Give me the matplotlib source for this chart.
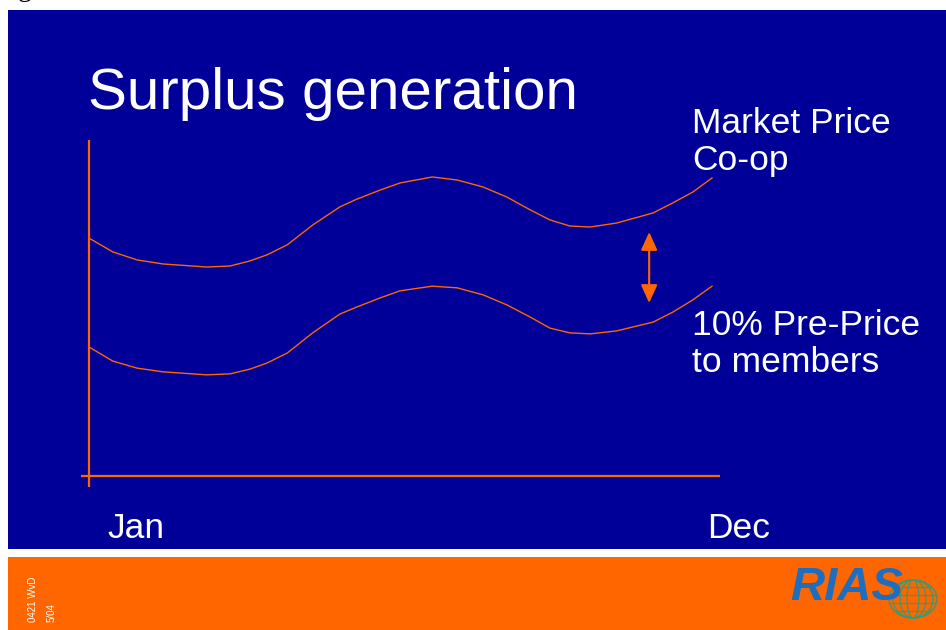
import matplotlib
matplotlib.use("Agg")
import matplotlib.pyplot as plt
from matplotlib.patches import Rectangle, Ellipse, Arc

# Datos (mes 0 = Jan, 11 = Dec; precio en indice 0-100)
months = [0.00, 0.42, 0.85, 1.31, 2.08, 2.49, 2.84, 3.14, 3.50, 3.95,
          4.43, 4.73, 5.14, 5.49, 6.06, 6.50, 6.96, 7.38, 7.79, 8.14,
          8.49, 8.85, 9.32, 9.96, 10.31, 10.66, 11.00]
market_price = [70.8, 66.7, 64.3, 63.1, 62.2, 62.5, 64.0, 65.8, 68.8, 74.7,
                80.1, 82.4, 85.1, 87.2, 89.0, 88.1, 86.0, 83.0, 79.2, 76.2,
                74.4, 74.1, 75.3, 78.3, 81.3, 84.5, 88.7]
pre_price = [38.4, 34.2, 32.1, 31.0, 30.1, 30.4, 31.8, 33.6, 36.6, 42.6,
             48.2, 50.3, 53.0, 55.1, 56.5, 56.0, 53.9, 50.9, 47.3, 44.0,
             42.6, 42.3, 43.2, 45.8, 48.8, 52.4, 56.5]
gap_month = 9.89
gap_top = 72.6
gap_bottom = 51.5

title = "Surplus generation"
upper_label = ["Market Price", "Co-op"]
lower_label = ["10% Pre-Price", "to members"]
start_label = "Jan"
end_label = "Dec"

BLUE = "#000099"
ORANGE = "#FF6600"
FONT = "Liberation Sans"

fig = plt.figure(figsize=(9.46, 6.3), dpi=100)
fig.patch.set_facecolor("white")

# Fondo de la diapositiva en coordenadas de pixel
bg = fig.add_axes([0, 0, 1, 1])
bg.set_xlim(0, 946)
bg.set_ylim(630, 0)
bg.axis("off")
bg.add_patch(Rectangle((8, 10), 938, 539, color=BLUE, lw=0))
bg.add_patch(Rectangle((8, 557), 938, 73, color=ORANGE, lw=0))

# resto de texto de la pagina anterior, cortado arriba
bg.text(18, -4, "g", fontsize=20, family="Liberation Serif", color="black",
        va="baseline", ha="left")

bg.text(88, 109, title, fontsize=42, family=FONT, color="white", va="baseline")
for i, line in enumerate(upper_label):
    bg.text(692, 133 + 37 * i, line, fontsize=25.5, family=FONT, color="white",
            va="baseline")
for i, line in enumerate(lower_label):
    bg.text(692, 335 + 37 * i, line, fontsize=25.5, family=FONT, color="white",
            va="baseline")
bg.text(107, 538, start_label, fontsize=25.5, family=FONT, color="white", va="baseline")
bg.text(707, 538, end_label, fontsize=25.5, family=FONT, color="white", va="baseline")

# Pie de pagina
bg.text(33, 622, "0421 WvD", fontsize=7, family=FONT, color="white",
        rotation=90, ha="center", va="bottom")
bg.text(52, 622, "5/04", fontsize=7, family=FONT, color="white",
        rotation=90, ha="center", va="bottom")

# Logo RIAS
GREEN = "#2E9E7A"
bg.add_patch(Ellipse((913, 599), 48, 38, fill=False, ec=GREEN, lw=1.0))
for w in [12, 26, 40]:
    bg.add_patch(Arc((913, 599), w, 38, fill=False, ec=GREEN, lw=0.9))
for dy, half in [(-12, 18), (-4, 23), (4, 23), (12, 18)]:
    bg.plot([913 - half, 913 + half], [599 + dy, 599 + dy], color=GREEN, lw=0.9)
bg.text(790, 600, "RIAS", fontsize=34, family=FONT, weight="bold", style="italic",
        color="#1F6DBE", va="baseline")

# Grafica principal
x0, x1 = 81, 720
y0, y1 = 140, 487
ax = fig.add_axes([x0 / 946, 1 - y1 / 630, (x1 - x0) / 946, (y1 - y0) / 630])
ax.set_xlim(-8 / 56.64, 631 / 56.64)
ax.set_ylim(-11 / 3.36, 100)
ax.patch.set_alpha(0)
for s in ax.spines.values():
    s.set_visible(False)
ax.set_xticks([])
ax.set_yticks([])

ax.axvline(0, color=ORANGE, lw=1.6)
ax.axhline(0, color=ORANGE, lw=1.6)
ax.plot(months, market_price, color=ORANGE, lw=1.0, solid_joinstyle="round")
ax.plot(months, pre_price, color=ORANGE, lw=1.0, solid_joinstyle="round")

ax.annotate("", xy=(gap_month, gap_bottom), xytext=(gap_month, gap_top),
            arrowprops=dict(arrowstyle="<|-|>,head_length=0.55,head_width=0.25",
                            mutation_scale=20, color=ORANGE, lw=1.5,
                            shrinkA=0, shrinkB=0))

fig.savefig("out.png", dpi=100, facecolor="white")
